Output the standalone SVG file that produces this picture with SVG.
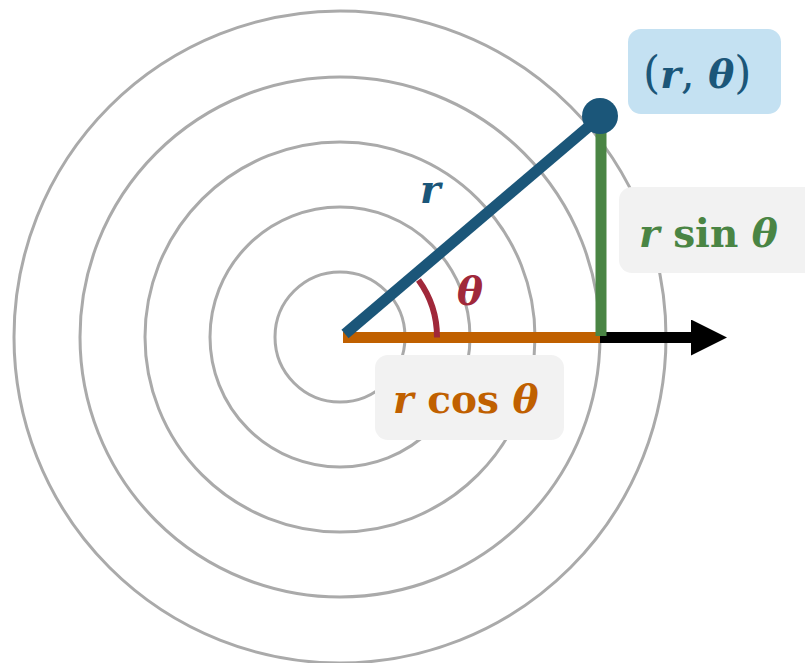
<svg xmlns="http://www.w3.org/2000/svg" width="805" height="663" viewBox="0 0 805 663">
<defs>
<style>
.ring{fill:none;stroke:#AAAAAA;stroke-width:3}
.box{stroke:none}
.m{font-family:"DejaVu Serif","Liberation Serif",serif;font-weight:bold;font-size:39px}
.it{font-style:italic}
.par{font-weight:normal;font-style:normal;font-size:44px}
</style>
<marker id="ah" markerUnits="userSpaceOnUse" markerWidth="36" markerHeight="36" refX="0" refY="18" orient="auto" viewBox="0 0 36 36">
<path d="M0,0 L36,18 L0,36 Z" fill="#000"/>
</marker>
</defs>
<g id="rings">
<circle class="ring" cx="340" cy="337" r="65"/>
<circle class="ring" cx="340" cy="337" r="130"/>
<circle class="ring" cx="340" cy="337" r="195"/>
<circle class="ring" cx="340" cy="337" r="260"/>
<circle class="ring" cx="340" cy="337" r="326"/>
</g>
<g id="connectors">
<line id="axis" x1="598" y1="337.5" x2="691" y2="337.5" stroke="#000" stroke-width="11" marker-end="url(#ah)"/>
<line id="rcos" x1="343" y1="337.5" x2="600" y2="337.5" stroke="#C06000" stroke-width="11"/>
<line id="rsin" x1="601" y1="120" x2="601" y2="336" stroke="#4A8544" stroke-width="11"/>
<line id="rline" x1="345" y1="334" x2="600" y2="117" stroke="#1B5679" stroke-width="11"/>
<path id="arc" d="M 437 337.5 A 97 97 0 0 0 418.5 280" fill="none" stroke="#A0283A" stroke-width="6"/>
</g>
<g id="point">
<circle cx="600" cy="116" r="18" fill="#1B5679"/>
</g>
<g id="label-point">
<rect class="box" x="628" y="29" width="153" height="85" rx="13" fill="#C4E1F2"/>
<text class="m" x="643" y="88" fill="#1B5679"><tspan class="par">(</tspan><tspan class="it">r</tspan><tspan class="par">,</tspan> <tspan class="it">θ</tspan><tspan class="par">)</tspan></text>
</g>
<g id="label-rsin">
<rect class="box" x="619" y="187" width="200" height="86" rx="13" fill="#F2F2F2"/>
<text class="m" x="639" y="247" fill="#4A8544"><tspan class="it">r</tspan> sin <tspan class="it">θ</tspan></text>
</g>
<g id="label-rcos">
<rect class="box" x="375" y="355" width="189" height="85" rx="13" fill="#F2F2F2"/>
<text class="m" x="393" y="413" fill="#C06000"><tspan class="it">r</tspan> cos <tspan class="it">θ</tspan></text>
</g>
<g id="label-r">
<text class="m it" x="420" y="203" fill="#1B5679">r</text>
</g>
<g id="label-theta">
<text class="m it" x="457" y="305" fill="#A0283A">θ</text>
</g>
</svg>
